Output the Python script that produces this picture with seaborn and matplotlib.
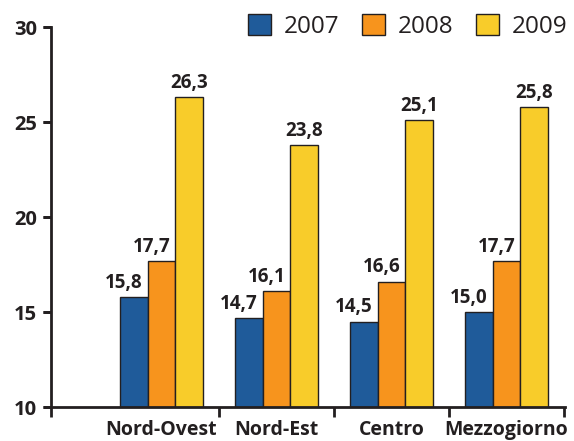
import pandas as pd
import numpy as np
import matplotlib
matplotlib.use("Agg")
import matplotlib.pyplot as plt
import seaborn as sns

# data
regions = ["Nord-Ovest", "Nord-Est", "Centro", "Mezzogiorno"]
years = ["2007", "2008", "2009"]
vals_2007 = [15.8, 14.7, 14.5, 15.0]
vals_2008 = [17.7, 16.1, 16.6, 17.7]
vals_2009 = [26.3, 23.8, 25.1, 25.8]
colors = ["#1f5b9a", "#f7941d", "#f8cc2a"]
yticks = [10, 15, 20, 25, 30]

df = pd.DataFrame({
    "region": regions * 3,
    "year": [y for y in years for _ in regions],
    "value": vals_2007 + vals_2008 + vals_2009,
})

sns.set_style("ticks")
plt.rcParams["font.family"] = ["Open Sans", "DejaVu Sans"]
ink = "#231f20"

fig = plt.figure(figsize=(5.74, 4.41), dpi=100)
ax = fig.add_axes([0.0889, 0.077, 0.8955, 0.8617])

sns.barplot(data=df, x="region", y="value", hue="year", order=regions,
            hue_order=years, palette=colors, saturation=1, width=0.72,
            edgecolor=ink, linewidth=1.0, ax=ax, legend=True)

# value labels, the first two of each group nudged left like the original
shifts = [-7, -7, 0]
for cont, dx in zip(ax.containers, shifts):
    for b in cont:
        h = b.get_height()
        ax.annotate(f"{h:.1f}".replace(".", ","),
                    (b.get_x() + b.get_width() / 2, h),
                    xytext=(dx, 3), textcoords="offset points",
                    ha="center", va="bottom", fontsize=13.5,
                    fontweight="bold", color=ink)

ax.set_ylim(10, 30)
ax.set_yticks(yticks)
ax.set_xlim(-0.96, 3.51)
ax.set_xlabel("")
ax.set_ylabel("")

for s in ["top", "right"]:
    ax.spines[s].set_visible(False)
for s in ["left", "bottom"]:
    ax.spines[s].set_color(ink)
    ax.spines[s].set_linewidth(2)

ax.tick_params(axis="x", which="major", length=0, labelsize=14,
               labelcolor=ink, pad=9)
ax.set_xticks([-0.96, 0.5, 1.5, 2.5, 3.5], minor=True)
ax.tick_params(axis="x", which="minor", direction="out", length=7,
               width=2, color=ink, bottom=True)
ax.tick_params(axis="y", length=6, width=2, color=ink, labelsize=14.5,
               labelcolor=ink, pad=4)
for t in ax.get_yticklabels() + ax.get_xticklabels():
    t.set_fontweight("bold")

# y tick marks drawn explicitly so they always show
ytr = ax.get_yaxis_transform()
for yv in yticks:
    ax.plot([-0.016, 0], [yv, yv], transform=ytr, color=ink, lw=2,
            clip_on=False, solid_capstyle="butt")

handles, labels = ax.get_legend_handles_labels()
ax.get_legend().remove()
fig.legend(handles, labels, ncol=3, loc="center right",
           bbox_to_anchor=(0.988, 0.94), frameon=False, fontsize=17.5,
           handlelength=0.95, handleheight=0.95, columnspacing=0.95,
           handletextpad=0.5, labelcolor=ink, borderaxespad=0,
           borderpad=0)

fig.savefig("out.png", dpi=100)
